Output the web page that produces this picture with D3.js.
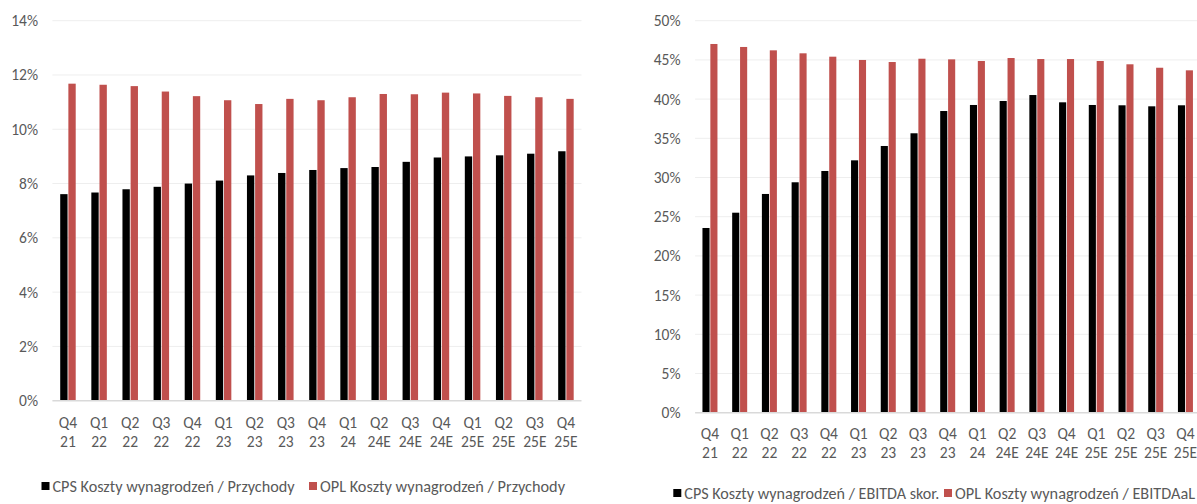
<!DOCTYPE html>
<html>
<head>
<meta charset="utf-8">
<script src="https://cdn.jsdelivr.net/npm/d3@7"></script>
<style>
  body { margin: 0; background: #fff; }
  svg text { font-family: Carlito, Calibri, Lato, "Open Sans", sans-serif; fill: #595959; }
</style>
</head>
<body>
<svg id="chart" width="1197" height="504"></svg>
<script>
// categories shared by both panels
var categories = ["Q4 21", "Q1 22", "Q2 22", "Q3 22", "Q4 22", "Q1 23", "Q2 23", "Q3 23", "Q4 23",
                  "Q1 24", "Q2 24E", "Q3 24E", "Q4 24E", "Q1 25E", "Q2 25E", "Q3 25E", "Q4 25E"]

// left panel: salary costs / revenue
var cpsRevenue = [7.61, 7.67, 7.79, 7.88, 8.00, 8.11, 8.30, 8.39, 8.50, 8.57, 8.61, 8.80, 8.96, 9.00, 9.04, 9.10, 9.19]
var oplRevenue = [11.68, 11.64, 11.59, 11.39, 11.22, 11.07, 10.93, 11.12, 11.07, 11.18, 11.30, 11.29, 11.35, 11.32, 11.23, 11.18, 11.12]
var leftTicks = [0, 2, 4, 6, 8, 10, 12, 14]
var leftLegend = ["CPS Koszty wynagrodzeń / Przychody", "OPL Koszty wynagrodzeń / Przychody"]

// right panel: salary costs / EBITDA
var cpsEbitda = [23.56, 25.51, 27.90, 29.39, 30.83, 32.19, 34.02, 35.64, 38.48, 39.25, 39.76, 40.52, 39.59, 39.25, 39.21, 39.08, 39.21]
var oplEbitdaal = [47.03, 46.65, 46.22, 45.84, 45.41, 44.99, 44.73, 45.15, 45.07, 44.86, 45.24, 45.11, 45.11, 44.86, 44.44, 44.00, 43.67]
var rightTicks = [0, 5, 10, 15, 20, 25, 30, 35, 40, 45, 50]
var rightLegend = ["CPS Koszty wynagrodzeń / EBITDA skor.", "OPL Koszty wynagrodzeń / EBITDAaL"]

var colors = ["#000000", "#c0504d"]
var svg = d3.select('#chart')

function drawPanel(cfg) {
  var g = svg.append('g')

  var x = d3.scaleBand()
    .domain(categories)
    .range(cfg.xRange)

  var y = d3.scaleLinear()
    .domain([0, d3.max(cfg.ticks)])
    .range(cfg.yRange)

  var x1 = d3.scaleBand()
    .domain([0, 1])
    .range([-cfg.pairW / 2, cfg.pairW / 2])
    .paddingInner(0.1)

  // gridlines
  g.append('g').selectAll('line')
    .data(cfg.ticks.slice(1))
    .enter().append('line')
    .attr('x1', cfg.xRange[0]).attr('x2', cfg.xRange[1])
    .attr('y1', d => y(d)).attr('y2', d => y(d))
    .attr('stroke', '#eeeeee').attr('stroke-width', 1)

  // y tick labels
  g.append('g').selectAll('text')
    .data(cfg.ticks)
    .enter().append('text')
    .attr('x', cfg.yLabelX)
    .attr('y', d => y(d))
    .attr('dy', '0.35em')
    .attr('text-anchor', 'end')
    .style('font-size', '15.5px')
    .text(d => d + '%')

  // bars
  var series = [cfg.a, cfg.b]
  series.forEach(function(vals, si) {
    g.append('g').selectAll('rect')
      .data(vals)
      .enter().append('rect')
      .attr('x', (d, i) => x(categories[i]) + x.bandwidth() / 2 + x1(si))
      .attr('width', x1.bandwidth())
      .attr('y', d => y(d))
      .attr('height', d => y(0) - y(d))
      .attr('fill', colors[si])
  })

  // baseline
  g.append('line')
    .attr('x1', cfg.xRange[0]).attr('x2', cfg.xRange[1])
    .attr('y1', y(0)).attr('y2', y(0))
    .attr('stroke', '#d9d9d9').attr('stroke-width', 1.5)

  // category labels, two lines
  var lbl = g.append('g').selectAll('text')
    .data(categories)
    .enter().append('text')
    .attr('text-anchor', 'middle')
    .style('font-size', '15.5px')
  lbl.append('tspan')
    .attr('x', d => x(d) + x.bandwidth() / 2)
    .attr('y', y(0) + cfg.labelDy)
    .text(d => d.split(' ')[0])
  lbl.append('tspan')
    .attr('x', d => x(d) + x.bandwidth() / 2)
    .attr('y', y(0) + cfg.labelDy + 19)
    .text(d => d.split(' ')[1])

  // legend
  cfg.legend.forEach(function(name, li) {
    var lx = cfg.legendX[li]
    g.append('rect')
      .attr('x', lx).attr('y', cfg.legendY - 4)
      .attr('width', 8).attr('height', 8)
      .attr('fill', colors[li])
    g.append('text')
      .attr('x', lx + 11).attr('y', cfg.legendY)
      .attr('dy', '0.35em')
      .attr('textLength', cfg.legendW[li])
      .attr('lengthAdjust', 'spacingAndGlyphs')
      .style('font-size', '16px')
      .text(name)
  })
}

drawPanel({
  a: cpsRevenue, b: oplRevenue, ticks: leftTicks, legend: leftLegend,
  xRange: [52.4, 581.5], yRange: [400.7, 20.7], pairW: 15.5,
  yLabelX: 38, labelDy: 27, legendY: 486, legendX: [41.5, 309], legendW: [242, 245]
})

drawPanel({
  a: cpsEbitda, b: oplEbitdaal, ticks: rightTicks, legend: rightLegend,
  xRange: [695.1, 1200.3], yRange: [412.7, 20.7], pairW: 15,
  yLabelX: 680.5, labelDy: 26, legendY: 493, legendX: [673.3, 944], legendW: [255, 240]
})
</script>
</body>
</html>
